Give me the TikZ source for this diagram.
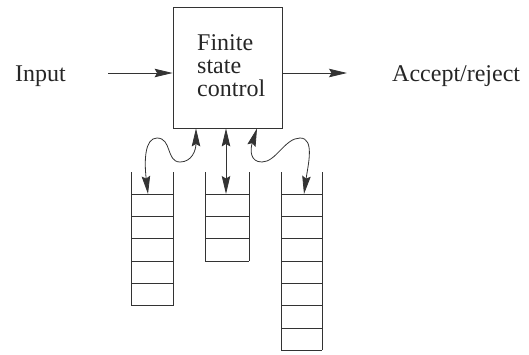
\documentclass[tikz,border=0pt]{standalone}
\usepackage{fontspec}
\setmainfont{Liberation Serif}
\usetikzlibrary{arrows.meta}
\begin{document}
\begin{tikzpicture}[x=1pt,y=-1pt,
  ink/.style={draw=black!80,line width=0.8pt},
  tip/.style={-{Stealth[length=18pt,width=8.5pt,inset=2.5pt]}},
  dtip/.style={{Stealth[length=18pt,width=8.5pt,inset=2.5pt]}-{Stealth[length=18pt,width=8.5pt,inset=2.5pt]}},
  lbl/.style={font=\fontsize{24}{23}\selectfont,text=black!85,inner sep=0pt},
  cell/.style={draw=black!80,line width=0.8pt}]
\useasboundingbox (0,0) rectangle (529,354);

% finite state control box
\node[ink,minimum width=109pt,minimum height=121pt,inner sep=0pt] (fsc) at (227.5,67.5) {};
\node[lbl,align=left,anchor=west] (fsctext) at (197,66) {Finite\\state\\control};

% input / output
\node[lbl,anchor=base west] (in) at (15,81) {Input};
\node[lbl,anchor=base west] (out) at (392,81) {Accept/reject};
\coordinate (inS) at (108,73);
\coordinate (outE) at (347,73);
\draw[ink,tip] (inS) -- (inS -| fsc.west);
\draw[ink,tip] (outE -| fsc.east) -- (outE);

% stacks
\foreach \xa/\xb/\n in {131/173/5, 205/249/3, 281/322/7}{
  \pgfmathsetmacro{\yb}{194+22.33*\n}
  \draw[cell] (\xa,172) -- (\xa,\yb);
  \draw[cell] (\xb,172) -- (\xb,\yb);
  \foreach \k in {0,...,\n}{
    \draw[cell] (\xa,194+22.33*\k) -- (\xb,194+22.33*\k);
  }
}
\coordinate (topL) at (148,194);
\coordinate (topM) at (226,194);
\coordinate (topR) at (304,194);
\coordinate (boxL) at ([xshift=-31.5pt]fsc.south);
\coordinate (boxR) at ([xshift=29.5pt]fsc.south);

% head movements
\draw[ink,dtip] (topL) .. controls (144,160) and (145,138) .. (157,138)
  .. controls (172,138) and (166,162) .. (180,162)
  .. controls (192,162) and (196,150) .. (boxL);
\draw[ink,dtip] (topM) -- (topM |- fsc.south);
\draw[ink,dtip] (boxR) .. controls (250,150) and (250,162) .. (262,162)
  .. controls (276,162) and (285,138) .. (300,138)
  .. controls (315,138) and (308,165) .. (topR);
\end{tikzpicture}
\end{document}
